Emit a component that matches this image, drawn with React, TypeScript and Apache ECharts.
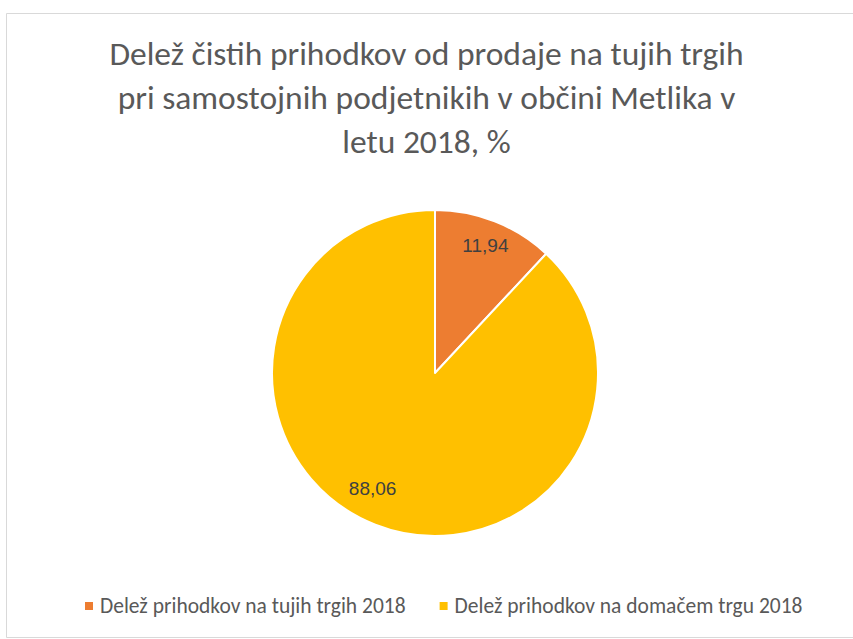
import React, { useEffect, useRef } from "react";
import * as echarts from "echarts";

const titleText = "Delež čistih prihodkov od prodaje na tujih trgih\npri samostojnih podjetnikih v občini Metlika v\nletu 2018, %";
const categories = ["Delež prihodkov na tujih trgih 2018", "Delež prihodkov na domačem trgu 2018"];
const values = [11.94, 88.06];
const colors = ["#ED7D31", "#FFC000"];

const FONT = "Carlito, Calibri, Lato, sans-serif";

export default function App() {
  const ref = useRef<HTMLDivElement>(null);
  useEffect(() => {
    if (!ref.current) return;
    const chart = echarts.init(ref.current, null, { renderer: "svg" });
    const data = categories.map((name, i) => ({ name, value: values[i], itemStyle: { color: colors[i] } }));
    chart.setOption({
      animation: false,
      backgroundColor: "#ffffff",
      title: {
        text: titleText,
        left: "center",
        top: 26,
        textStyle: { fontFamily: FONT, fontSize: 33.5, fontWeight: "normal", color: "#595959", lineHeight: 44 },
      },
      graphic: [
        { type: "rect", shape: { x: 6.5, y: 13.5, width: 860, height: 624 }, style: { fill: "none", stroke: "#d9d9d9", lineWidth: 1 } },
      ],
      legend: {
        data: categories,
        bottom: 17,
        left: 80,
        icon: "rect",
        itemWidth: 8,
        itemHeight: 8,
        itemGap: 34,
        itemStyle: { borderWidth: 0 },
        textStyle: { fontFamily: FONT, fontSize: 21.5, color: "#595959", padding: [0, 0, 0, 2] },
      },
      series: [
        {
          type: "pie",
          center: [435, 373],
          radius: 163,
          startAngle: 90,
          clockwise: true,
          data,
          label: { show: false },
          labelLine: { show: false },
          itemStyle: { borderColor: "#ffffff", borderWidth: 2 },
        },
        {
          type: "pie",
          center: [435, 373],
          radius: [106, 163],
          startAngle: 90,
          clockwise: true,
          silent: true,
          data: data.map((d, i) => ({
            ...d,
            itemStyle: { color: "transparent" },
            label: i === 1 ? { offset: [-12, -12] } : {},
          })),
          itemStyle: { color: "transparent", borderWidth: 0 },
          label: {
            show: true,
            position: "inside",
            formatter: (p: any) => p.value.toFixed(2).replace(".", ","),
            fontFamily: "'Liberation Sans', Arial, sans-serif",
            fontSize: 19,
            color: "#404040",
          },
          labelLine: { show: false },
          emphasis: { disabled: true },
        },
      ],
    });
    return () => chart.dispose();
  }, []);
  return <div ref={ref} style={{ position: "fixed", left: 0, top: 0, width: 853, height: 639 }} />;
}
